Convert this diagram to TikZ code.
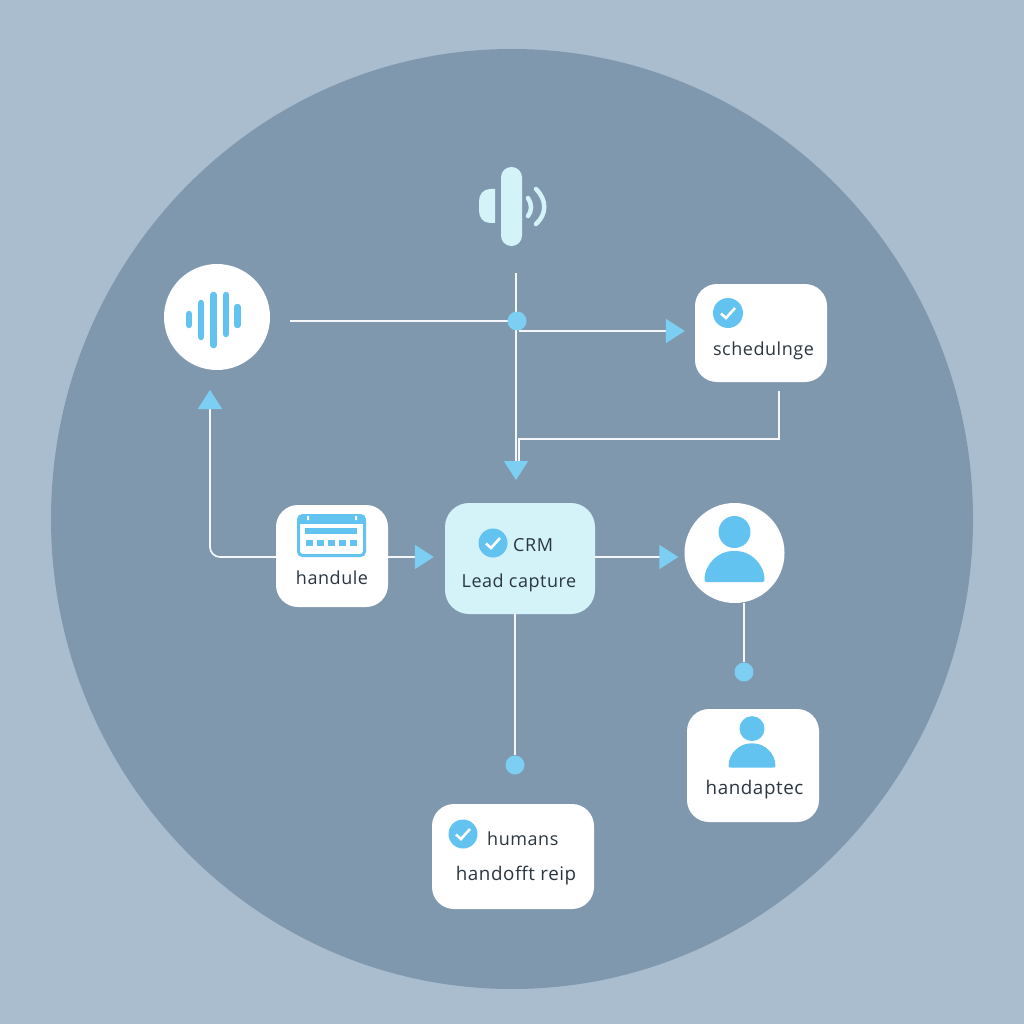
\documentclass[tikz,border=0pt]{standalone}
\usepackage{fontspec}
\setmainfont{Open Sans}[LetterSpace=3]
\usetikzlibrary{arrows.meta}
\usetikzlibrary{positioning}
\definecolor{pagebg}{HTML}{A9BDCF}
\definecolor{discbg}{HTML}{7F98AE}
\definecolor{iconblue}{HTML}{62C2F0}
\definecolor{tipblue}{HTML}{7CCFF3}
\definecolor{palecyan}{HTML}{D3F3F9}
\definecolor{inktext}{HTML}{2B3640}
\tikzset{
  card/.style = {rectangle, rounded corners=22pt, fill=white, inner sep=0pt},
  crmcard/.style = {card, fill=palecyan, rounded corners=24pt},
  disc/.style = {circle, fill=white, inner sep=0pt},
  joint/.style = {circle, fill=tipblue, inner sep=0pt, minimum size=19pt},
  badge/.style = {circle, fill=iconblue, inner sep=0pt, minimum size=29pt},
  label/.style = {inner sep=0pt, text=inktext, font=\fontsize{18}{20}\selectfont},
  wide/.style = {label, font=\fontsize{18.8}{20}\selectfont},
  wire/.style = {draw=white!92!discbg, line width=1.7pt},
  flow/.style = {wire, -{Triangle[length=19pt,width=24pt,color=tipblue,fill=tipblue]}},
  waveb/.style = {iconblue, line width=6.5pt, line cap=round},
  tick/.pic = {\draw[white, line width=2.6pt] (-7,0.5) -- (-2,5) -- (7,-5);},
  person/.pic = {% head and shoulders, scaled by the caller
    \fill[iconblue] (0,-21) circle (16);
    \fill[iconblue, rounded corners=2pt] (-30,29) .. controls (-30,10) and (-15,-2) .. (0,-2)
      .. controls (15,-2) and (30,10) .. (30,29) -- cycle;
  }
}
\begin{document}
\begin{tikzpicture}[x=1pt,y=-1pt]
\useasboundingbox (0,0) rectangle (1024,1024);
\fill[pagebg] (0,0) rectangle (1024,1024);
\fill[discbg] (512,519) ellipse [x radius=461, y radius=470];

% free ends
\coordinate (wavefree) at (290,321);
\coordinate (topfree) at (516,273);
\coordinate (crmin) at (516,480);
\coordinate (branch) at (519,331);
\coordinate (schedfree) at (779,391);
\coordinate (crmback) at (519,462);

% these two run under the joint and the arrow head
\draw [wire] (schedfree) -- (779,439) -- (519,439) -- (crmback);
\draw [flow] (topfree) -- (crmin);

% boxes and discs
\node [disc, minimum size=106pt] (wave) at (217,317) {};
\node [card, minimum width=132pt, minimum height=98pt] (sched) at (761,333) {};
\node [card, minimum width=112pt, minimum height=102pt] (hand) at (332,556) {};
\node [crmcard, minimum width=150pt, minimum height=111pt] (crm) at (520,558.5) {};
\node [disc, minimum size=100pt] (agent) at (734.5,553) {};
\node [card, minimum width=132pt, minimum height=113pt] (adapt) at (753,765.5) {};
\node [card, minimum width=162pt, minimum height=105pt] (human) at (513,856.5) {};

% connectors
\draw [wire] (wavefree) -- (517,321);
\draw [flow, shorten >=10pt] (branch) -- (sched.west |- branch);
\draw [flow, rounded corners=10pt] (hand.west |- 0,557) -- (210,557) -- (210,390);
\draw [flow, shorten >=11pt] (hand.east |- 0,557) -- (crm.west |- 0,557);
\draw [flow, shorten >=6pt] (crm.east |- 0,557) -- (agent.west |- 0,557);

% joints
\node [joint] (jtop) at (517,321) {};
\node [joint] (jagent) at (744,672) {};
\node [joint] (jcrm) at (515,765) {};
\draw [wire] (agent.south -| jagent) -- (jagent);
\draw [wire] (crm.south -| jcrm) -- (jcrm);

% speaker icon
\fill [palecyan, rounded corners=10.4pt] (501,167) rectangle (522,246);
\fill [palecyan] (495,189) -- (490,189) .. controls (483,189) and (479,195) .. (479,201)
  -- (479,211) .. controls (479,217) and (483,223) .. (490,223) -- (495,223) -- cycle;
\draw [palecyan, line width=4.5pt, line cap=round] (528,198) .. controls (532,204) and (532,211) .. (528,216);
\draw [palecyan, line width=4.5pt, line cap=round] (536,189) .. controls (547,200) and (547,214) .. (536,224);

% wave icon
\draw [waveb] (189,314) -- (189,325);
\draw [waveb] (201,303) -- (201,337);
\draw [waveb] (213.5,295) -- (213.5,345);
\draw [waveb] (226,295) -- (226,334);
\draw [waveb] (237.5,307) -- (237.5,325);

% calendar icon
\draw [iconblue, line width=3pt, rounded corners=4pt, fill=white] (298.5,515.5) rectangle (364.5,555.5);
\fill [iconblue] (298,516) rectangle (365,524);
\fill [white] (307,516) rectangle (309,520) (355,516) rectangle (357,520);
\fill [iconblue] (305,528) rectangle (357,534);
\foreach \cx in {306,317,328,339,350}
  \fill [iconblue] (\cx,540) rectangle +(7,6);

% person icons
\path (734.5,553) pic {person};
\path (752,745) pic [scale=0.78] {person};

% check badges
\node [badge, minimum size=30pt] (schedok) at (728,313) {};
\path (schedok) pic {tick};
\node [badge] (crmok) at (493,543) {};
\path (crmok) pic {tick};
\node [badge] (humanok) at (463,834) {};
\path (humanok) pic {tick};

% texts
\node [label] (schedtxt) at (763.5,351) {schedulnge};
\node [label] (handtxt) at (332,578) {handule};
\node [label, anchor=west] (crmtxt) at (513,545) {CRM};
\node [label] (leadtxt) at (519,583) {Lead capture};
\node [wide] (adapttxt) at (754.5,790) {handaptec};
\node [label, anchor=west] (humantxt) at (487,839) {humans};
\node [wide] (reiptxt) at (516,876) {handofft reip};
\end{tikzpicture}
\end{document}
